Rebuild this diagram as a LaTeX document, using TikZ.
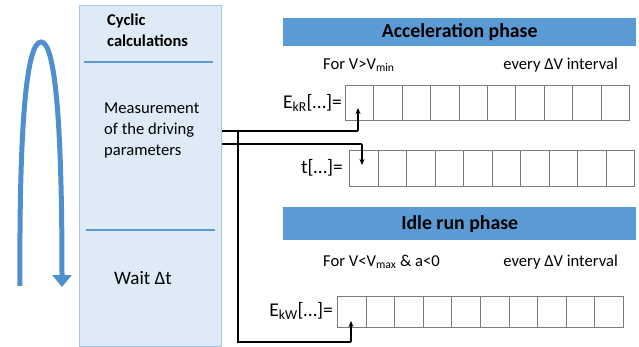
\documentclass[tikz,border=0pt]{standalone}
\usepackage{fontspec}
\setmainfont{Carlito}
\usetikzlibrary{arrows.meta}
\definecolor{panelfill}{HTML}{DEEAF6}
\definecolor{paneledge}{HTML}{A9C6E8}
\definecolor{hdr}{HTML}{5B9BD5}
\definecolor{loopc}{HTML}{4F8FCF}
\definecolor{cellc}{HTML}{7A7A7A}
\tikzset{
  txt/.style={inner sep=0pt, font=\fontsize{16.6}{21}\selectfont},
  lab/.style={inner sep=0pt, font=\fontsize{19.5}{22}\selectfont},
  hdrbox/.style={fill=hdr, draw=none, inner sep=0pt, font=\fontsize{19.8}{22}\selectfont\bfseries},
  cellbox/.style={draw=cellc, line width=0.9pt, fill=white, inner sep=0pt},
  conn/.style={draw=black, line width=1.6pt},
  connarrow/.style={draw=black, line width=1.2pt, -{Stealth[length=6pt,width=5pt]}},
  divider/.style={draw=hdr, line width=1.6pt}
}
\begin{document}
\begin{tikzpicture}[x=1pt,y=-1pt]
\useasboundingbox (0,0) rectangle (639,347);
% panel
\node[draw=paneledge, fill=panelfill, line width=1.2pt, minimum width=142pt, minimum height=341pt, inner sep=0pt, anchor=north west] (panel) at (79,5) {};
\draw[divider] (84,62) -- (213,62);
\draw[divider] (86,230) -- (215,230);
\node[txt, anchor=north west, align=left, font=\fontsize{16.5}{21}\selectfont\bfseries] (cyc) at (107,14) {Cyclic\\calculations};
\node[txt, anchor=west, align=left] (meas) at (104,131) {Measurement\\of the driving\\parameters};
\node[txt, anchor=west, font=\fontsize{19}{22}\selectfont] (wait) at (114,278) {Wait Δt};
% loop arrow
\draw[loopc, line width=5pt, -{Triangle[length=12pt,width=19pt]}] (20,286) .. controls (19,120) and (27,42) .. (41,42) .. controls (55,42) and (62,120) .. (62,287);
% headers
\node[hdrbox, minimum width=353pt, minimum height=28pt, anchor=north west] (acc) at (283,18) {Acceleration phase};
\node[hdrbox, minimum width=353pt, minimum height=33pt, anchor=north west] (idle) at (283,207) {Idle run phase};
\node[txt, anchor=west] (forR) at (323,65) {For V>V\textsubscript{min}};
\node[txt, anchor=east] (evR) at (618,65) {every ΔV interval};
\node[txt, anchor=west] (forW) at (323,262) {For V<V\textsubscript{max} \& a<0};
\node[txt, anchor=east] (evW) at (618,262) {every ΔV interval};
% rows
\foreach \i in {1,...,10} {
  \node[cellbox, minimum width=28.4pt, minimum height=35pt, anchor=north west] (R\i) at ({345+(\i-1)*28.4},85) {};
  \node[cellbox, minimum width=28.5pt, minimum height=36pt, anchor=north west] (T\i) at ({349+(\i-1)*28.5},150) {};
  \node[cellbox, minimum width=28.6pt, minimum height=31pt, anchor=north west] (W\i) at ({337+(\i-1)*28.6},296) {};
}
\node[lab, anchor=east] (labR) at (342,103) {E\textsubscript{kR}[…]=};
\node[lab, anchor=east] (labT) at (343,168) {t[…]=};
\node[lab, anchor=east] (labW) at (333,311) {E\textsubscript{kW}[…]=};
% connectors
\coordinate (o1) at (panel.east |- 0,131);
\coordinate (o2) at (panel.east |- 0,144);
\coordinate (j) at (238,131);
\coordinate (aR) at (358,108);
\coordinate (aT) at (362,165);
\coordinate (aW) at (351,321);
\draw[conn] (o1) -- (358,131);
\draw[connarrow] (358,131) -- (aR);
\draw[conn] (o2) -- (362,144);
\draw[connarrow] (362,144) -- (aT);
\draw[conn] (j) -- (238,342) -- (351,342);
\draw[connarrow] (351,342) -- (aW);
\end{tikzpicture}
\end{document}
